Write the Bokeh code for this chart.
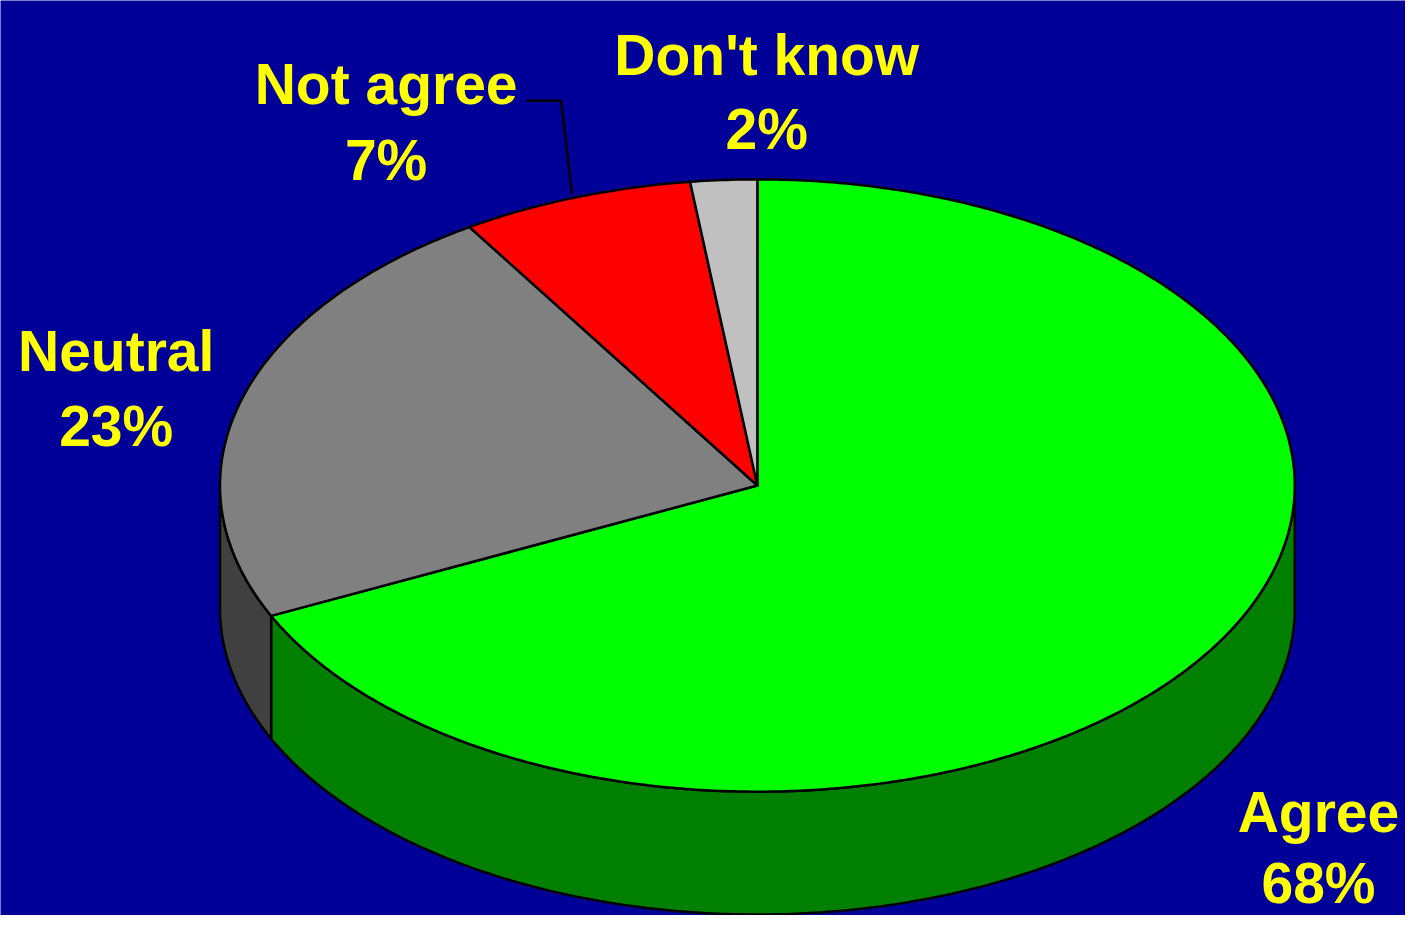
import numpy as np
from bokeh.plotting import figure
from bokeh.core.properties import value
from bokeh.embed import file_html
from bokeh.resources import INLINE

# ---- data ----
categories = ["Agree", "Neutral", "Not agree", "Don't know"]
shares = [68, 23, 7, 2]

# ---- styles ----
top_colors = ["#00FF00", "#808080", "#FF0000", "#C0C0C0"]
side_colors = ["#007F00", "#404040", "#990000", "#808080"]
BG = "#000099"
LABEL_COLOR = "#FFFF00"

# ---- geometry (reference picture pixels, y downward -> negative data y) ----
CX, CY, RX, RY, DEPTH = 765.5, -493.5, 543.5, 311.5, 125.0
label_x = [1333, 117, 390, 775]
label_y1 = [-826, -357, -85, -55]
label_y2 = [-898, -433, -162, -131]
leader_x = [532, 567, 578]
leader_y = [-102, -102, -197]

p = figure(width=1405, height=915, x_range=(0, 1421), y_range=(-931, 0),
           output_backend="svg", toolbar_location=None, min_border=0,
           x_axis_location=None, y_axis_location=None)
p.grid.visible = False
p.outline_line_color = None
p.background_fill_color = BG
p.border_fill_color = BG

total = float(sum(shares))
starts, ends = [], []
acc = 0.0
for s in shares:
    a0 = 90.0 - acc / total * 360.0
    acc += s
    a1 = 90.0 - acc / total * 360.0
    starts.append(a0)
    ends.append(a1)

# side walls (front visible half: math angles -180..0)
side_xs, side_ys, side_cols = [], [], []
for a0, a1, col in zip(starts, ends, side_colors):
    lo = max(a1, -180.0)
    hi = min(a0, 0.0)
    if hi <= lo:
        continue
    t = np.radians(np.linspace(lo, hi, 200))
    xt = CX + RX * np.cos(t)
    yt = CY + RY * np.sin(t)
    xs = np.concatenate([xt, xt[::-1]])
    ys = np.concatenate([yt, (yt - DEPTH)[::-1]])
    side_xs.append(list(xs))
    side_ys.append(list(ys))
    side_cols.append(col)

p.patches(side_xs, side_ys, fill_color=side_cols, line_color="black", line_width=2.5,
          line_join="round")

# top faces
top_xs, top_ys = [], []
for a0, a1 in zip(starts, ends):
    n = max(int(abs(a0 - a1) * 2), 10)
    t = np.radians(np.linspace(a0, a1, n))
    xs = np.concatenate([[CX], CX + RX * np.cos(t)])
    ys = np.concatenate([[CY], CY + RY * np.sin(t)])
    top_xs.append(list(xs))
    top_ys.append(list(ys))

p.patches(top_xs, top_ys, fill_color=top_colors, line_color="black", line_width=2.5,
          line_join="round")

# leader line for "Not agree"
p.line(leader_x, leader_y, line_color="black", line_width=2.5)

# labels
line1 = list(categories)
line2 = [f"{s}%" for s in shares]
for ys, txt in ((label_y1, line1), (label_y2, line2)):
    p.text(x=label_x, y=ys, text=txt, text_font=value("Liberation Sans"),
           text_font_style="bold", text_font_size="57px", text_color=LABEL_COLOR,
           text_align="center", text_baseline="alphabetic")

open("out.html", "w").write(file_html(p, INLINE))
